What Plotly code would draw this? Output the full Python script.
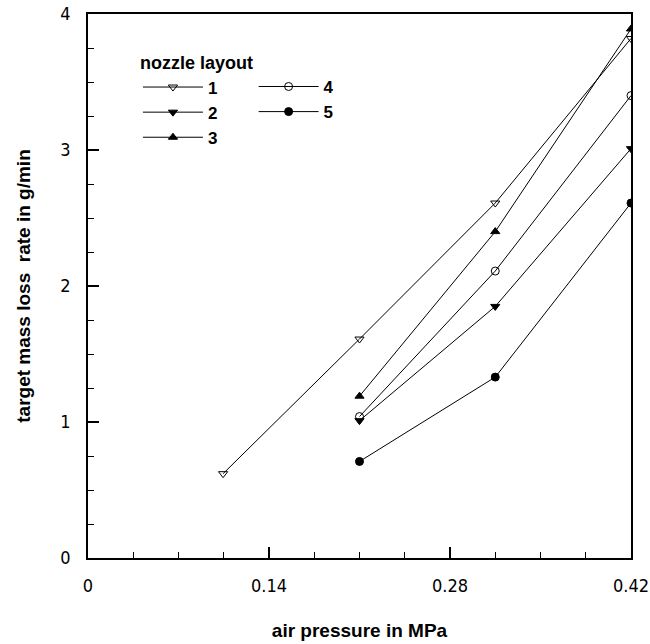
import plotly.graph_objects as go

x1 = [0.1045, 0.21, 0.315, 0.42]
y1 = [0.62, 1.61, 2.61, 3.82]
x_common = [0.21, 0.315, 0.42]
y2 = [1.01, 1.85, 3.01]
y3 = [1.19, 2.40, 3.89]
y4 = [1.04, 2.11, 3.40]
y5 = [0.71, 1.33, 2.61]

series = [
    ("1", x1, y1, "triangle-down-open", "legend"),
    ("2", x_common, y2, "triangle-down", "legend"),
    ("3", x_common, y3, "triangle-up", "legend"),
    ("4", x_common, y4, "circle-open", "legend2"),
    ("5", x_common, y5, "circle", "legend2"),
]

fig = go.Figure()
for name, xs, ys, sym, lg in series:
    fig.add_trace(go.Scatter(
        x=xs, y=ys, name=name, mode="lines+markers",
        line=dict(color="black", width=1),
        marker=dict(symbol=sym, size=8, color="black", line=dict(color="black", width=1)),
        legend=lg,
    ))

tickfont = dict(family="Liberation Sans Narrow, DejaVu Sans Condensed, Arial Narrow, Liberation Sans, Arial",
                size=18, color="black")
titlefont = dict(family="Liberation Sans, Arial", size=19, color="black", weight="bold")
legfont = dict(family="Liberation Sans, Arial", size=17, color="black", weight="bold")
legtitlefont = dict(family="Liberation Sans, Arial", size=18, color="black", weight="bold")

fig.update_layout(
    width=650, height=644,
    margin=dict(l=88, r=19, t=14, b=86),
    plot_bgcolor="white", paper_bgcolor="white",
    xaxis=dict(
        range=[0, 0.42], tickvals=[0, 0.14, 0.28, 0.42], ticktext=["0", "0.14", "0.28", "0.42"],
        showgrid=False, zeroline=False, showline=True, linecolor="black", linewidth=1.5, mirror=True,
        ticks="inside", ticklen=11, tickwidth=1.5, tickcolor="black", tickfont=tickfont,
        ticklabelstandoff=11, automargin=False,
        minor=dict(dtick=0.035, tick0=0, ticks="inside", ticklen=6, tickwidth=1, tickcolor="black"),
        title=dict(text="air pressure in MPa", font=titlefont, standoff=28),
    ),
    yaxis=dict(
        range=[0, 4], tickvals=[0, 1, 2, 3, 4],
        showgrid=False, zeroline=False, showline=True, linecolor="black", linewidth=1.5, mirror=True,
        ticks="inside", ticklen=11, tickwidth=1.5, tickcolor="black", tickfont=tickfont,
        ticklabelstandoff=12, automargin=False,
        minor=dict(dtick=0.25, tick0=0, ticks="inside", ticklen=6, tickwidth=1, tickcolor="black"),
        title=dict(text="target mass loss  rate in g/min", font=titlefont, standoff=25),
    ),
    legend=dict(
        x=0.092, y=0.941, xanchor="left", yanchor="top", bgcolor="rgba(0,0,0,0)",
        font=legfont, title=dict(text="nozzle layout", font=legtitlefont, side="top"),
        itemwidth=60, tracegroupgap=0,
    ),
    legend2=dict(
        x=0.305, y=0.899, xanchor="left", yanchor="top", bgcolor="rgba(0,0,0,0)",
        font=legfont, itemwidth=60,
    ),
)

fig.write_html("out.html")
